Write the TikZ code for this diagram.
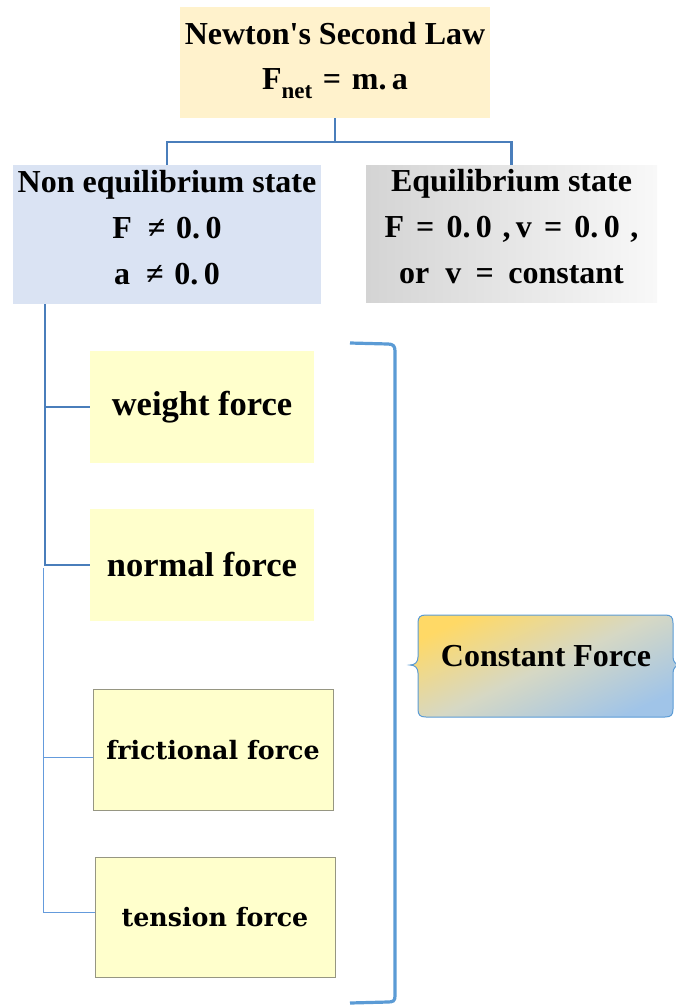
\documentclass[tikz,border=0pt]{standalone}
\usepackage{fontspec}
\setmainfont{Liberation Serif}
\newfontfamily\schfont{DejaVu Serif}
\usetikzlibrary{calc}
\definecolor{topfill}{RGB}{255,242,204}
\definecolor{noneqfill}{RGB}{218,227,243}
\definecolor{yel}{RGB}{255,255,204}
\definecolor{eqL}{RGB}{212,212,212}
\definecolor{eqR}{RGB}{248,248,248}
\definecolor{conn}{RGB}{74,126,187}
\definecolor{brk}{RGB}{91,155,213}
\definecolor{thinconn}{RGB}{100,155,220}
\definecolor{boxline}{RGB}{150,150,130}
\definecolor{cfY}{RGB}{255,217,102}
\definecolor{cfM}{RGB}{214,216,196}
\definecolor{cfB}{RGB}{160,196,232}
\newcommand{\eqgap}{\hspace{0.38em}}
\newcommand{\liftend}{\\[-31pt]\mbox{}}
\begin{document}
\begin{tikzpicture}[x=1pt,y=-1pt,
  box/.style={inner sep=0pt, align=center, font=\bfseries\fontsize{32}{46}\selectfont},
  yelbox/.style={box, fill=yel, minimum width=224pt, minimum height=112pt, font=\bfseries\fontsize{34.5}{34.5}\selectfont},
  schbox/.style={box, fill=yel, draw=boxline, line width=1pt, minimum width=240pt, minimum height=121pt, font=\schfont\bfseries\fontsize{25.3}{25.3}\selectfont},
  connline/.style={draw=conn, line width=2.2pt},
  thinline/.style={draw=thinconn, line width=1pt},
  brkline/.style={draw=brk, line width=3.2pt}
]
\useasboundingbox (0,0) rectangle (676,1005);

\node[box, fill=topfill, minimum width=310pt, minimum height=111pt, font=\bfseries\fontsize{32}{45}\selectfont] (top) at (335,62.5)
  {Newton\textquotesingle s Second Law\\F\raisebox{-0.3em}{\fontsize{23}{23}\selectfont net}\,\,=\,\,m.\,a\liftend};

\node[box, fill=noneqfill, minimum width=308pt, minimum height=139pt] (noneq) at (167,234.5)
  {Non equilibrium state\\F\,\,\,≠\,\,0.\,0\\a\,\,\,≠\,\,0.\,0\liftend};

\node[box, left color=eqL, right color=eqR, minimum width=291pt, minimum height=137pt] (eq) at (511.5,233.5)
  {Equilibrium state\\F\eqgap=\eqgap0.\,0\,\,,\,v\eqgap=\eqgap0.\,0\,\,,\\or\hspace{0.5em}v\hspace{0.45em}=\hspace{0.45em}constant\liftend};

\node[yelbox] (weight) at (202,407) {weight force};
\node[yelbox] (normal) at (202,565) {normal force};
\node[schbox] (friction) at (213,750) {frictional force};
\node[schbox, minimum height=120pt] (tension) at (215,917) {tension force};

% connectors
\draw[connline] (top.south) -- ++(0,24) coordinate (mid) -| (noneq.north);
\draw[connline] (mid) -| (eq.north);
\coordinate (ltop) at ($(noneq.south west)+(32,0)$);
\draw[connline] (ltop) |- (weight.west);
\draw[connline] (ltop) |- (normal.west);
\coordinate (tstart) at (43,568);
\draw[thinline] (tstart) |- ($(friction.west)+(0,7)$);
\draw[thinline] (tstart) |- ($(tension.west)+(0,-5)$);

% big bracket
\draw[brkline] (350,343) -- (388,344) .. controls (393,344) and (395,346) .. (395,351)
  -- (395,996) .. controls (395,1001) and (393,1002) .. (388,1002) -- (350,1003);

% constant force brace box
\path[draw=brk, line width=1pt, top color=cfY, bottom color=cfB, middle color=cfM, shading angle=25]
  (418,623) .. controls (418,617) and (420,615) .. (426,615) -- (665,615)
  .. controls (671,615) and (673,617) .. (673,623) -- (673,657)
  .. controls (673,662) and (676,665) .. (681,665)
  .. controls (676,665) and (673,668) .. (673,673) -- (673,709)
  .. controls (673,715) and (671,717) .. (665,717) -- (426,717)
  .. controls (420,717) and (418,715) .. (418,709) -- (418,673)
  .. controls (418,668) and (415,665) .. (410,665)
  .. controls (415,665) and (418,662) .. (418,657) -- cycle;
\node[font=\bfseries\fontsize{32}{32}\selectfont, inner sep=0pt] (cf) at (546,656) {Constant Force};
\end{tikzpicture}
\end{document}
